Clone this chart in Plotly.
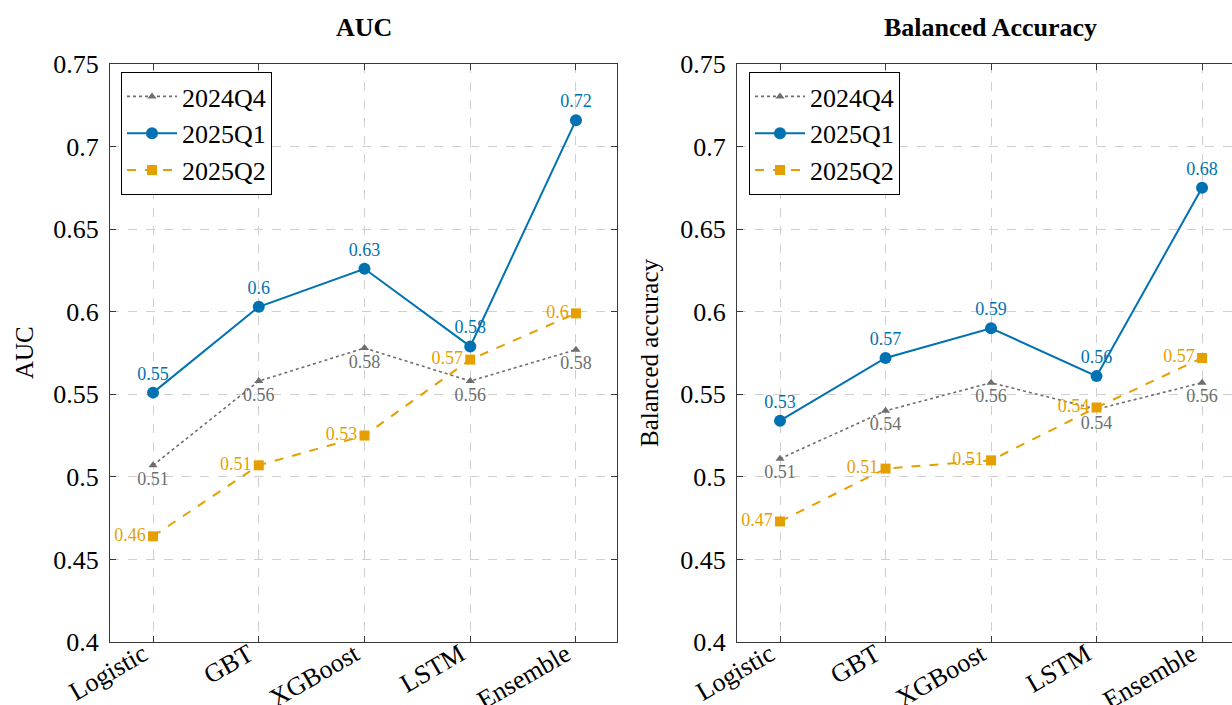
import plotly.graph_objects as go

models = ["Logistic", "GBT", "XGBoost", "LSTM", "Ensemble"]
series_names = ["2024Q4", "2025Q1", "2025Q2"]

auc_2024q4 = [0.507, 0.558, 0.578, 0.558, 0.577]
auc_2025q1 = [0.551, 0.603, 0.626, 0.579, 0.716]
auc_2025q2 = [0.464, 0.507, 0.525, 0.571, 0.599]

bacc_2024q4 = [0.511, 0.540, 0.557, 0.541, 0.557]
bacc_2025q1 = [0.534, 0.572, 0.590, 0.561, 0.675]
bacc_2025q2 = [0.473, 0.505, 0.510, 0.542, 0.572]

y_tick_vals = [0.4, 0.45, 0.5, 0.55, 0.6, 0.65, 0.7, 0.75]
y_tick_text = ["0.4", "0.45", "0.5", "0.55", "0.6", "0.65", "0.7", "0.75"]

FONT = "Liberation Serif, Times New Roman, serif"
GRAY = "#6e6e6e"
BLUE = "#0072B2"
ORANGE = "#E69F00"

styles = {
    "2024Q4": dict(color=GRAY, dash="dot", width=1.6, symbol="triangle-up", msize=8, tpos="bottom center"),
    "2025Q1": dict(color=BLUE, dash="solid", width=2, symbol="circle", msize=12, tpos="top center"),
    "2025Q2": dict(color=ORANGE, dash="dash", width=2, symbol="square", msize=10, tpos="middle left"),
}


def fmt(v):
    s = f"{round(v + 1e-9, 2):.2f}".rstrip("0").rstrip(".")
    return s


fig = go.Figure()

panels = [
    ("x", "y", "legend", [auc_2024q4, auc_2025q1, auc_2025q2]),
    ("x2", "y2", "legend2", [bacc_2024q4, bacc_2025q1, bacc_2025q2]),
]

for xa, ya, leg, data in panels:
    for name, vals in zip(series_names, data):
        st = styles[name]
        fig.add_trace(go.Scatter(
            x=models, y=vals, name=name, xaxis=xa, yaxis=ya, legend=leg,
            mode="lines+markers+text",
            line=dict(color=st["color"], dash=st["dash"], width=st["width"]),
            marker=dict(symbol=st["symbol"], size=st["msize"], color=st["color"]),
            text=[fmt(v) for v in vals],
            textposition=st["tpos"],
            textfont=dict(family=FONT, size=18, color=st["color"]),
            cliponaxis=False,
        ))

axis_common = dict(
    showline=True, linecolor="#3a3a3a", linewidth=1.2,
    showgrid=True, gridcolor="#cfcfcf", griddash="dash", gridwidth=1,
    ticks="inside", ticklen=6, tickcolor="#3a3a3a", tickwidth=1,
    tickfont=dict(family=FONT, size=26, color="black"),
    zeroline=False, automargin=False,
)

W, H = 1232, 705
x1_dom = [110 / W, 617 / W]
x2_dom = [737 / W, 1.0]
y_dom = [(H - 642) / H, (H - 64) / H]

xcommon = dict(type="category", mirror="allticks", tickangle=-30,
               ticklabelshift=-10, ticklabelstandoff=-14)
ycommon = dict(range=[0.4, 0.75], tickvals=y_tick_vals, ticktext=y_tick_text,
               ticklabelstandoff=5)

legend_common = dict(xanchor="left", yanchor="top", bgcolor="white",
                     bordercolor="black", borderwidth=1, itemwidth=50,
                     font=dict(family=FONT, size=26, color="black"))

fig.update_layout(
    width=W, height=H,
    margin=dict(l=0, r=0, t=0, b=0, autoexpand=False),
    paper_bgcolor="white", plot_bgcolor="white",
    font=dict(family=FONT, color="black"),
    xaxis=dict(axis_common, **xcommon, domain=x1_dom, anchor="y", range=[-0.407, 4.388]),
    yaxis=dict(axis_common, **ycommon, domain=y_dom, anchor="x", mirror="allticks"),
    xaxis2=dict(axis_common, **xcommon, domain=x2_dom, anchor="y2", range=[-0.408, 4.284]),
    yaxis2=dict(axis_common, **ycommon, domain=y_dom, anchor="x2", mirror=False),
    legend=dict(legend_common, x=121 / W, y=(H - 72) / H),
    legend2=dict(legend_common, x=749 / W, y=(H - 72) / H),
    annotations=[
        dict(text="<b>AUC</b>", x=363.5 / W, y=(H - 27) / H, xref="paper", yref="paper",
             xanchor="center", yanchor="middle",
             showarrow=False, font=dict(family=FONT, size=26, color="black")),
        dict(text="<b>Balanced Accuracy</b>", x=990 / W, y=(H - 27) / H, xref="paper", yref="paper",
             xanchor="center", yanchor="middle",
             showarrow=False, font=dict(family=FONT, size=26, color="black")),
        dict(text="AUC", x=25 / W, y=(H - 353) / H, xref="paper", yref="paper",
             xanchor="center", yanchor="middle",
             textangle=-90, showarrow=False, font=dict(family=FONT, size=25, color="black")),
        dict(text="Balanced accuracy", x=650 / W, y=(H - 353) / H, xref="paper", yref="paper",
             xanchor="center", yanchor="middle",
             textangle=-90, showarrow=False, font=dict(family=FONT, size=25, color="black")),
    ],
)

fig.write_html("out.html")
